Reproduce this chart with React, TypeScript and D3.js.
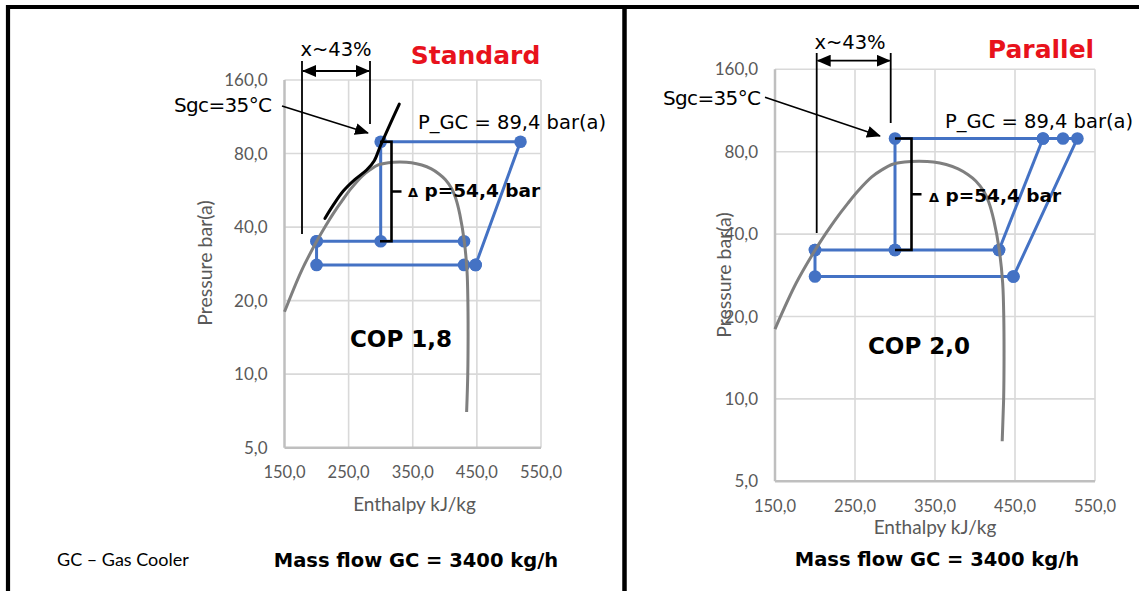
import React from "react";
import * as d3 from "d3";

// Axis ticks shared by both p-h diagrams
const enthalpyTicks = [150, 250, 350, 450, 550];
const pressureTicks = [5, 10, 20, 40, 80, 160];

// CO2 saturation dome (enthalpy kJ/kg, pressure bar(a))
const domeEnthalpy = [150, 176.5, 200, 214, 226, 241, 254, 271, 284, 297, 312, 330, 348, 364, 379, 391, 401, 411, 417, 423.5, 430.4, 434.6, 436, 436.3, 435.8, 434];
const domePressure = [18, 26.5, 34.9, 40.4, 45.4, 51.8, 57.6, 64.7, 68.8, 72.0, 73.4, 73.8, 73.4, 71.8, 69.2, 66, 62.5, 57.3, 52.5, 45, 34.9, 26.5, 19.7, 14.3, 10, 7];

// 35 °C gas-cooler outlet isotherm (standard system)
const isothermEnthalpy = [213, 226, 242, 260, 278, 290, 299, 311, 329];
const isothermPressure = [43.4, 49.2, 56.3, 62.7, 68.5, 74.8, 85.3, 100.5, 127.6];

// Cycle state points: [enthalpy, pressure]
const standardGasCooler: [number, number][] = [[448, 28], [518, 89.4], [300, 89.4], [300, 35]];
const standardFlashTank: [number, number][] = [[200, 35], [430, 35]];
const standardEvaporator: [number, number][] = [[200, 35], [200, 28], [430, 28], [448, 28]];

const parallelGasCooler: [number, number][] = [[448, 28], [528, 89.4], [510, 89.4], [485, 89.4], [300, 89.4], [300, 35]];
const parallelCompressor: [number, number][] = [[430, 35], [485, 89.4]];
const parallelFlashTank: [number, number][] = [[200, 35], [300, 35], [430, 35]];
const parallelEvaporator: [number, number][] = [[200, 35], [200, 28], [448, 28]];

const gasCoolerPressure = 89.4;
const receiverPressure = 35;

const fmt = (v: number) => d3.format(".1f")(v).replace(".", ",");

const BLUE = "#4472C4";
const GREY = "#7f7f7f";
const TICK = "#595959";
const RED = "#e8121c";
const AXIS_FONT = "Lato, 'Noto Sans', sans-serif";
const NOTE_FONT = "'DejaVu Sans', Verdana, sans-serif";

type Layout = {
  left: number; right: number; top: number; bottom: number;
  title: string; titleX: number; titleY: number;
  q: { x1: number; x2: number; top: number; arrowY: number; b1: number; b2: number; lx: number; ly: number };
  sgc: { tx: number; ty: number; x0: number; y0: number; x1: number; y1: number };
  pgc: { x: number; y: number };
  br: { xIn: number; xOut: number; tick: number };
  dp: { x: number; y: number };
  cop: { text: string; x: number; y: number };
  yTitle: { x: number; y: number };
  xTitle: { x: number; y: number };
  mass: { x: number; y: number };
  lines: [number, number][][];
  isotherm: boolean;
};

function Panel({ L }: { L: Layout }) {
  const x = d3.scaleLinear().domain([150, 550]).range([L.left, L.right]);
  const y = d3.scaleLog().base(2).domain([5, 160]).range([L.bottom, L.top]);
  const line = d3.line<[number, number]>().x((d) => x(d[0])).y((d) => y(d[1]));
  const smooth = d3.line<[number, number]>().x((d) => x(d[0])).y((d) => y(d[1])).curve(d3.curveCatmullRom.alpha(0.5));
  const dome = domeEnthalpy.map((h, i) => [h, domePressure[i]] as [number, number]);
  const iso = isothermEnthalpy.map((h, i) => [h, isothermPressure[i]] as [number, number]);
  const pts = L.lines.flat();
  const yTop = y(gasCoolerPressure);
  const yBot = y(receiverPressure);
  const yMid = (yTop + yBot) / 2;
  return (
    <g>
      {/* grid */}
      {enthalpyTicks.slice(1).map((t) => (
        <line key={"gx" + t} x1={x(t)} x2={x(t)} y1={L.top} y2={L.bottom} stroke="#d9d9d9" strokeWidth={1.6} />
      ))}
      {pressureTicks.slice(1).map((t) => (
        <line key={"gy" + t} x1={L.left} x2={L.right} y1={y(t)} y2={y(t)} stroke="#d9d9d9" strokeWidth={1.6} />
      ))}
      <line x1={L.left} x2={L.left} y1={L.top} y2={L.bottom} stroke="#bfbfbf" strokeWidth={2.5} />
      <line x1={L.left} x2={L.right} y1={L.bottom} y2={L.bottom} stroke="#bfbfbf" strokeWidth={2.5} />
      {/* tick labels */}
      {pressureTicks.map((t) => (
        <text key={"ty" + t} x={L.left - 17} y={y(t)} dy="0.36em" textAnchor="end" fontSize={17} fill={TICK} fontFamily={AXIS_FONT}>{fmt(t)}</text>
      ))}
      {enthalpyTicks.map((t) => (
        <text key={"tx" + t} x={x(t)} y={L.bottom + 24.5} dy="0.36em" textAnchor="middle" fontSize={16.5} fill={TICK} fontFamily={AXIS_FONT}>{fmt(t)}</text>
      ))}
      <text transform={`translate(${L.yTitle.x},${L.yTitle.y}) rotate(-90)`} dy="0.36em" textAnchor="middle" fontSize={19.5} fill={TICK} fontFamily={AXIS_FONT}>Pressure bar(a)</text>
      <text x={L.xTitle.x} y={L.xTitle.y} dy="0.36em" textAnchor="middle" fontSize={19} fill={TICK} fontFamily={AXIS_FONT}>Enthalpy kJ/kg</text>
      {/* cycle */}
      {L.lines.map((s, i) => (
        <path key={"s" + i} d={line(s) || ""} fill="none" stroke={BLUE} strokeWidth={3} strokeLinejoin="round" />
      ))}
      {pts.map((p, i) => (
        <circle key={"p" + i} cx={x(p[0])} cy={y(p[1])} r={6.3} fill={BLUE} />
      ))}
      {/* saturation dome */}
      <path d={smooth(dome) || ""} fill="none" stroke={GREY} strokeWidth={3} />
      {L.isotherm && <path d={smooth(iso) || ""} fill="none" stroke="#000" strokeWidth={3} strokeLinecap="round" />}
      {/* annotations */}
      <text x={L.titleX} y={L.titleY} dy="0.36em" textAnchor="middle" fontSize={25} fontWeight="bold" fill={RED} fontFamily={NOTE_FONT}>{L.title}</text>
      <text x={L.q.lx} y={L.q.ly} dy="0.36em" textAnchor="middle" fontSize={19.5} fill="#000" fontFamily={NOTE_FONT}>x~43%</text>
      <line x1={L.q.x1} x2={L.q.x1} y1={L.q.top} y2={L.q.b1} stroke="#000" strokeWidth={1.8} />
      <line x1={L.q.x2} x2={L.q.x2} y1={L.q.top} y2={L.q.b2} stroke="#000" strokeWidth={1.8} />
      <line x1={L.q.x1 + 1} x2={L.q.x2 - 1} y1={L.q.arrowY} y2={L.q.arrowY} stroke="#000" strokeWidth={1.8} markerStart="url(#arrowHead)" markerEnd="url(#arrowHead)" />
      <text x={L.sgc.tx} y={L.sgc.ty} dy="0.36em" textAnchor="end" fontSize={20} textLength={98} lengthAdjust="spacing" fill="#000" fontFamily={NOTE_FONT}>Sgc=35°C</text>
      <line x1={L.sgc.x0} y1={L.sgc.y0} x2={L.sgc.x1} y2={L.sgc.y1} stroke="#000" strokeWidth={1.6} markerEnd="url(#arrowHead)" />
      <text x={L.pgc.x} y={L.pgc.y} dy="0.36em" fontSize={19.5} fill="#000" fontFamily={NOTE_FONT}>P_GC = 89,4 bar(a)</text>
      <path d={`M${L.br.xIn},${yTop}H${L.br.xOut}V${yBot}H${L.br.xIn}M${L.br.xOut},${yMid}H${L.br.tick}`} fill="none" stroke="#000" strokeWidth={2.6} />
      <text x={L.dp.x} y={L.dp.y} dy="0.36em" fontSize={18.5} fontWeight="bold" fill="#000" fontFamily={NOTE_FONT}>
        <tspan fontSize={13}>Δ</tspan> p=54,4 bar
      </text>
      <text x={L.cop.x} y={L.cop.y} dy="0.36em" textAnchor="middle" fontSize={23} fontWeight="bold" fill="#000" fontFamily={NOTE_FONT}>{L.cop.text}</text>
      <text x={L.mass.x} y={L.mass.y} dy="0.36em" textAnchor="middle" fontSize={19.5} fontWeight="bold" fill="#000" fontFamily={NOTE_FONT}>Mass flow GC = 3400 kg/h</text>
    </g>
  );
}

const standard: Layout = {
  left: 284.5, right: 541, top: 80, bottom: 447.7,
  title: "Standard", titleX: 475.5, titleY: 55,
  q: { x1: 302, x2: 370, top: 61, arrowY: 71, b1: 234, b2: 124, lx: 336, ly: 49 },
  sgc: { tx: 272, ty: 105, x0: 282, y0: 106, x1: 368, y1: 133 },
  pgc: { x: 418, y: 122 },
  br: { xIn: 380, xOut: 391.5, tick: 401.5 },
  dp: { x: 408, y: 190 },
  cop: { text: "COP 1,8", x: 401, y: 339 },
  yTitle: { x: 205, y: 263 },
  xTitle: { x: 414.5, y: 504 },
  mass: { x: 416, y: 560 },
  lines: [standardGasCooler, standardFlashTank, standardEvaporator],
  isotherm: true,
};

const parallel: Layout = {
  left: 775, right: 1095, top: 69.3, bottom: 481.3,
  title: "Parallel", titleX: 1041, titleY: 49,
  q: { x1: 816.7, x2: 890.7, top: 53, arrowY: 60.7, b1: 233, b2: 123, lx: 850, ly: 42 },
  sgc: { tx: 761, ty: 98, x0: 765, y0: 97.3, x1: 880, y1: 136 },
  pgc: { x: 945, y: 120.5 },
  br: { xIn: 895, xOut: 911.5, tick: 921.5 },
  dp: { x: 929, y: 195 },
  cop: { text: "COP 2,0", x: 919, y: 346 },
  yTitle: { x: 724, y: 275 },
  xTitle: { x: 935, y: 527.5 },
  mass: { x: 937, y: 558.5 },
  lines: [parallelGasCooler, parallelCompressor, parallelFlashTank, parallelEvaporator],
  isotherm: false,
};

export default function App() {
  return (
    <svg width={1139} height={591} style={{ position: "absolute", left: 0, top: 0, background: "#fff" }}>
      <defs>
        <marker id="arrowHead" markerUnits="userSpaceOnUse" markerWidth={14} markerHeight={12} refX={13} refY={6} orient="auto-start-reverse">
          <path d="M0,0L14,6L0,12Z" fill="#000" />
        </marker>
      </defs>
      <rect width={1139} height={591} fill="#fff" />
      <Panel L={standard} />
      <Panel L={parallel} />
      <text x={57} y={560} dy="0.36em" fontSize={18} fill="#000" fontFamily={AXIS_FONT}>GC – Gas Cooler</text>
      {/* panel frames */}
      <line x1={6} x2={1139} y1={7} y2={7} stroke="#000" strokeWidth={4.2} />
      <line x1={8} x2={8} y1={5} y2={591} stroke="#000" strokeWidth={4.2} />
      <line x1={624.5} x2={624.5} y1={5} y2={591} stroke="#000" strokeWidth={4.5} />
    </svg>
  );
}
